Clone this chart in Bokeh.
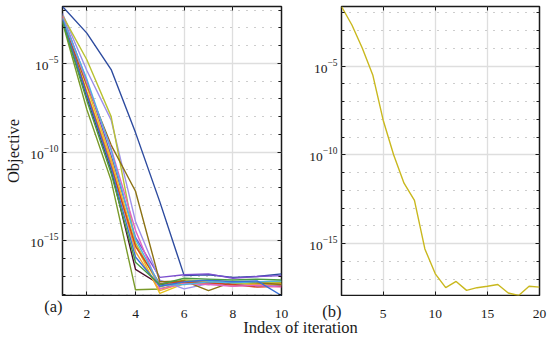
import numpy as np
from bokeh.plotting import figure
from bokeh.models import (Range1d, FixedTicker, LogAxis, LinearAxis, Label,
                          CustomJSTickFormatter, LogTickFormatter)
from bokeh.core.properties import value
from bokeh.layouts import row, column
from bokeh.embed import file_html
from bokeh.resources import INLINE

# ---------------- data (log10 of objective) ----------------
iters_a = [1, 2, 3, 4, 5, 6, 7, 8, 9, 10]
run_darkblue = [-1.80, -3.30, -5.35, -8.90, -12.80, -16.95, -16.90, -17.05, -17.00, -16.85]
run_violet = [-2.30, -6.00, -10.20, -14.80, -17.05, -16.90, -16.85, -17.10, -17.00, -16.95]
run_maroon = [-2.50, -6.90, -11.00, -16.60, -17.45, -17.30, -17.35, -17.50, -17.45, -17.50]
run_olivegreen = [-2.70, -7.60, -11.60, -17.75, -17.70, -17.35, -17.45, -17.30, -17.40, -17.35]
run_yellow = [-2.40, -6.30, -10.40, -15.20, -17.95, -17.40, -17.30, -17.55, -17.40, -17.45]
run_orange = [-2.50, -6.60, -10.60, -15.60, -17.80, -17.35, -17.40, -17.50, -17.45, -17.40]
run_lavender = [-2.20, -5.40, -8.20, -13.90, -17.20, -17.70, -17.40, -17.45, -17.55, -17.50]
run_yellowgreen = [-2.30, -4.80, -8.00, -15.10, -17.60, -17.20, -17.25, -17.40, -17.35, -17.30]
run_olivebrown = [-2.60, -6.20, -9.60, -12.20, -17.30, -17.25, -17.80, -17.30, -17.35, -17.45]
run_red = [-2.40, -6.70, -10.80, -15.30, -17.40, -17.30, -17.35, -17.45, -17.60, -17.55]
run_pink = [-2.35, -6.10, -9.80, -14.40, -17.70, -17.40, -17.45, -17.55, -17.50, -17.60]
run_cyan = [-2.45, -5.90, -9.90, -14.90, -17.50, -17.45, -17.30, -17.35, -17.30, -17.25]
run_medblue = [-2.55, -6.80, -10.90, -15.90, -17.55, -17.30, -17.20, -17.30, -17.25, -18.07]
run_green = [-2.65, -7.10, -11.20, -16.20, -17.45, -17.10, -17.15, -17.20, -17.15, -17.20]

runs_a = [run_darkblue, run_violet, run_maroon, run_olivegreen, run_yellow, run_orange,
          run_lavender, run_yellowgreen, run_olivebrown, run_red, run_pink, run_cyan,
          run_medblue, run_green]
colors_a = ["#2d4b9f", "#7b4fcf", "#4b0d2b", "#7a9a2a", "#e6c21e", "#f0a03c",
            "#9d90ea", "#b9c232", "#8c7214", "#d2431f", "#e263c2", "#4fb3e3",
            "#3a70d6", "#4a9b42"]

iters_b = list(range(1, 21))
run_b = [-1.65, -2.69, -4.00, -5.50, -8.05, -10.00, -11.60, -12.56, -15.30, -16.70,
         -17.48, -17.13, -17.63, -17.48, -17.40, -17.30, -17.78, -17.92, -17.40, -17.45]
color_b = "#c9b81e"

y_major = [1e-15, 1e-10, 1e-5]
y_minor_exp = [-18, -17, -16, -14, -13, -12, -11, -9, -8, -7, -6, -4, -3, -2, -1]
xticks_a = [2, 4, 6, 8, 10]
xticks_b = [5, 10, 15, 20]
xlabels_a = [str(t) for t in xticks_a]
xlabels_b = [str(t) for t in xticks_b]

FONT = "Liberation Serif"
INK = "#1a1a1a"
W, H = 550, 338
TOP_H = 296

blank = CustomJSTickFormatter(code="return ''")


def make_panel(width, xs, runs, colors, xticks, bl, br, bt):
    allv = np.concatenate([np.asarray(r) for r in runs])
    ylo, yhi = float(10 ** allv.min()), float(10 ** allv.max())
    p = figure(width=width, height=TOP_H, x_range=Range1d(min(xs), max(xs)),
               y_range=Range1d(ylo, yhi), y_axis_type="log",
               output_backend="svg", toolbar_location=None,
               min_border_left=bl, min_border_right=br, min_border_top=bt,
               min_border_bottom=1)
    for r, c in zip(runs, colors):
        p.line(xs, [10 ** v for v in r], line_color=c, line_width=1.4)

    yt = FixedTicker(ticks=y_major, minor_ticks=[10.0 ** k for k in y_minor_exp])
    xt = FixedTicker(ticks=xticks, minor_ticks=[])

    p.xaxis.ticker = xt
    p.xaxis.formatter = blank
    p.xaxis.major_label_text_font_size = "1px"
    p.xaxis.major_label_standoff = 0
    p.yaxis.ticker = yt
    p.yaxis.formatter = LogTickFormatter()
    p.yaxis.major_label_text_font = FONT
    p.yaxis.major_label_text_font_size = "13.5px"
    p.yaxis.major_label_text_color = INK
    p.yaxis.major_label_standoff = 4
    for ax in list(p.xaxis) + list(p.yaxis):
        ax.axis_line_color = None
        ax.major_tick_in = 4
        ax.major_tick_out = 0
        ax.minor_tick_in = 3
        ax.minor_tick_out = 0
        ax.major_tick_line_color = INK
        ax.minor_tick_line_color = INK

    ra = LogAxis(ticker=yt, formatter=blank, major_label_text_font_size="1px",
                 major_label_standoff=0,
                 major_tick_in=4, major_tick_out=0, minor_tick_in=3, minor_tick_out=0,
                 axis_line_color=None, major_tick_line_color=INK, minor_tick_line_color=INK)
    p.add_layout(ra, "right")
    ta = LinearAxis(ticker=xt, formatter=blank, major_label_text_font_size="1px",
                    major_label_standoff=0,
                    major_tick_in=4, major_tick_out=0, minor_tick_in=0, minor_tick_out=0,
                    axis_line_color=None, major_tick_line_color=INK)
    p.add_layout(ta, "above")

    p.xgrid.grid_line_color = "#dedede"
    p.xgrid.grid_line_width = 1.3
    p.ygrid.grid_line_color = "#dedede"
    p.ygrid.grid_line_width = 1.3
    p.ygrid.minor_grid_line_color = "#9a9a9a"
    p.ygrid.minor_grid_line_dash = "1 7"
    p.ygrid.minor_grid_line_width = 1
    p.outline_line_color = INK
    p.outline_line_width = 1.5
    return p


W1, BL1, BR1 = 290, 62, 9
W2, BL2, BR2 = 260, 51, 11
p1 = make_panel(W1, iters_a, runs_a, colors_a, xticks_a, BL1, BR1, 5)
p2 = make_panel(W2, iters_b, [run_b], [color_b], xticks_b, BL2, BR2, 6)

p1.yaxis[0].axis_label = "Objective"
p1.yaxis[0].axis_label_text_font = FONT
p1.yaxis[0].axis_label_text_font_size = "16.5px"
p1.yaxis[0].axis_label_text_font_style = "normal"
p1.yaxis[0].axis_label_text_color = INK
p1.yaxis[0].axis_label_standoff = 4

# bottom strip: x tick labels, panel tags and the shared x-axis title,
# placed through ranges whose pixel mapping equals each panel's frame
ua = (W1 - BL1 - BR1) / (max(iters_a) - min(iters_a))
ub = (W2 - BL2 - BR2) / (max(iters_b) - min(iters_b))
left_a = BL1
left_b = W1 + BL2
rng_a = Range1d(min(iters_a) - left_a / ua, min(iters_a) + (W - left_a) / ua)
rng_b = Range1d(min(iters_b) - left_b / ub, min(iters_b) + (W - left_b) / ub)

SH = H - TOP_H
p3 = figure(width=W, height=SH, x_range=Range1d(0, W), y_range=Range1d(0, SH),
            output_backend="svg", toolbar_location=None, min_border=0,
            x_axis_location=None, y_axis_location=None)
p3.extra_x_ranges = {"a": rng_a, "b": rng_b}
p3.outline_line_color = None
p3.grid.visible = False

p3.text(x=xticks_a, y=[24.5] * len(xticks_a), text=xlabels_a, x_range_name="a",
        text_align="center", text_baseline="alphabetic", text_font=value(FONT),
        text_font_size=value("13.5px"), text_color=INK)
p3.text(x=xticks_b, y=[25.0] * len(xticks_b), text=xlabels_b, x_range_name="b",
        text_align="center", text_baseline="alphabetic", text_font=value(FONT),
        text_font_size=value("13.5px"), text_color=INK)
p3.text(x=[min(iters_a)], y=[32.0], text=["(a)"], x_range_name="a",
        text_align="right", text_baseline="alphabetic", text_font=value(FONT),
        text_font_size=value("16.5px"), text_color=INK)
p3.text(x=[min(iters_b)], y=[27.0], text=["(b)"], x_range_name="b",
        text_align="right", text_baseline="alphabetic", text_font=value(FONT),
        text_font_size=value("16.5px"), text_color=INK)
p3.add_layout(Label(x=300, y=11, text="Index of iteration", text_align="center",
                    text_baseline="middle", text_font=FONT, text_font_size="16.5px",
                    text_color=INK))

layout = column(row(p1, p2), p3)
open("out.html", "w").write(file_html(layout, INLINE))
